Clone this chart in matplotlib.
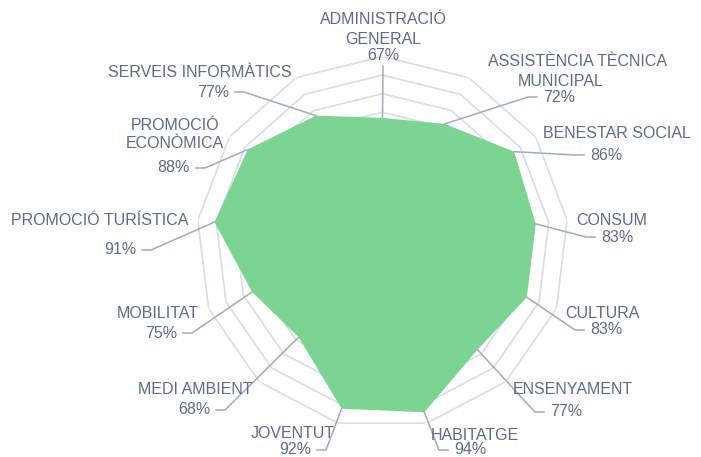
import numpy as np
import matplotlib
matplotlib.use('Agg')
import matplotlib.pyplot as plt
from matplotlib.lines import Line2D

W, H = 701, 457

categories = ['ADMINISTRACIÓ\nGENERAL', 'ASSISTÈNCIA TÈCNICA\nMUNICIPAL', 'BENESTAR SOCIAL',
              'CONSUM', 'CULTURA', 'ENSENYAMENT', 'HABITATGE', 'JOVENTUT', 'MEDI AMBIENT',
              'MOBILITAT', 'PROMOCIÓ TURÍSTICA', 'PROMOCIÓ\nECONÒMICA', 'SERVEIS INFORMÀTICS']
values = [67, 72, 86, 83, 83, 77, 94, 92, 68, 75, 91, 88, 77]
rings = [10, 20, 30, 40, 50, 60, 70, 80, 90, 100]

# label layout in pixels (top-left origin): name line centres, percent anchor, side
name_xy = [(383, 20), (578, 62), (617, 133), (612, 220), (602, 313), (573, 390), (475, 435),
           (293, 433), (195, 390), (158, 313), (100, 220), (175, 125), (200, 72)]
line_x = {1: [578, 561]}
pct_xy = [(383, 55), (543, 97), (590, 155), (601, 237), (590, 330), (550, 412), (454, 450),
          (311, 450), (210, 410), (177, 333), (136, 250), (190, 168), (229, 92)]
side = [0, 1, 1, 1, 1, 1, 1, -1, -1, -1, -1, -1, -1]

GREEN = '#7bd492'
TEXT = '#5d6b8e'
LEADER = '#a2a9c2'
GRID = '#d9dce6'
FONT = 'Liberation Sans'
FS = 11.5

n = len(values)
theta = np.arange(n) * 2 * np.pi / n
th_closed = np.append(theta, theta[0])

fig = plt.figure(figsize=(W / 100, H / 100), dpi=100)
cx, cy, R = 382.5, 242.5, 186
ax = fig.add_axes([(cx - R) / W, 1 - (cy + R) / H, 2 * R / W, 2 * R / H], projection='polar')
ax.set_theta_zero_location('N')
ax.set_theta_direction(-1)
ax.set_ylim(0, 100)
ax.axis('off')

for r in rings:
    ax.plot(th_closed, [r] * (n + 1), color=GRID, lw=1.2, zorder=1)

vals_closed = np.append(values, values[0])
ax.fill(th_closed, vals_closed, color=GREEN, lw=0, zorder=2)


def px(x, y):
    return x / W, 1 - y / H


inv = fig.transFigure.inverted()
gap, hook = 6, 9
for i in range(n):
    p = inv.transform(ax.transData.transform((theta[i], values[i])))
    x, y = pct_xy[i]
    s = side[i]
    if s == 0:
        pts = [tuple(p), px(x, y + 11)]
        ha = 'center'
    else:
        pts = [tuple(p), px(x - s * (gap + hook), y), px(x - s * gap, y)]
        ha = 'left' if s > 0 else 'right'
    fig.add_artist(Line2D([q[0] for q in pts], [q[1] for q in pts], color=LEADER, lw=1.1,
                          transform=fig.transFigure, zorder=3))
    fig.text(*px(x, y), '%d%%' % values[i], ha=ha, va='center', color=TEXT,
             fontsize=FS, family=FONT)
    nx, ny = name_xy[i]
    lines = categories[i].split('\n')
    xs = line_x.get(i, [nx] * len(lines))
    for k, line in enumerate(lines):
        fig.text(*px(xs[k], ny + 19 * k), line, ha='center', va='center', color=TEXT,
                 fontsize=FS, family=FONT)

fig.savefig('out.png', dpi=100, facecolor='white')
